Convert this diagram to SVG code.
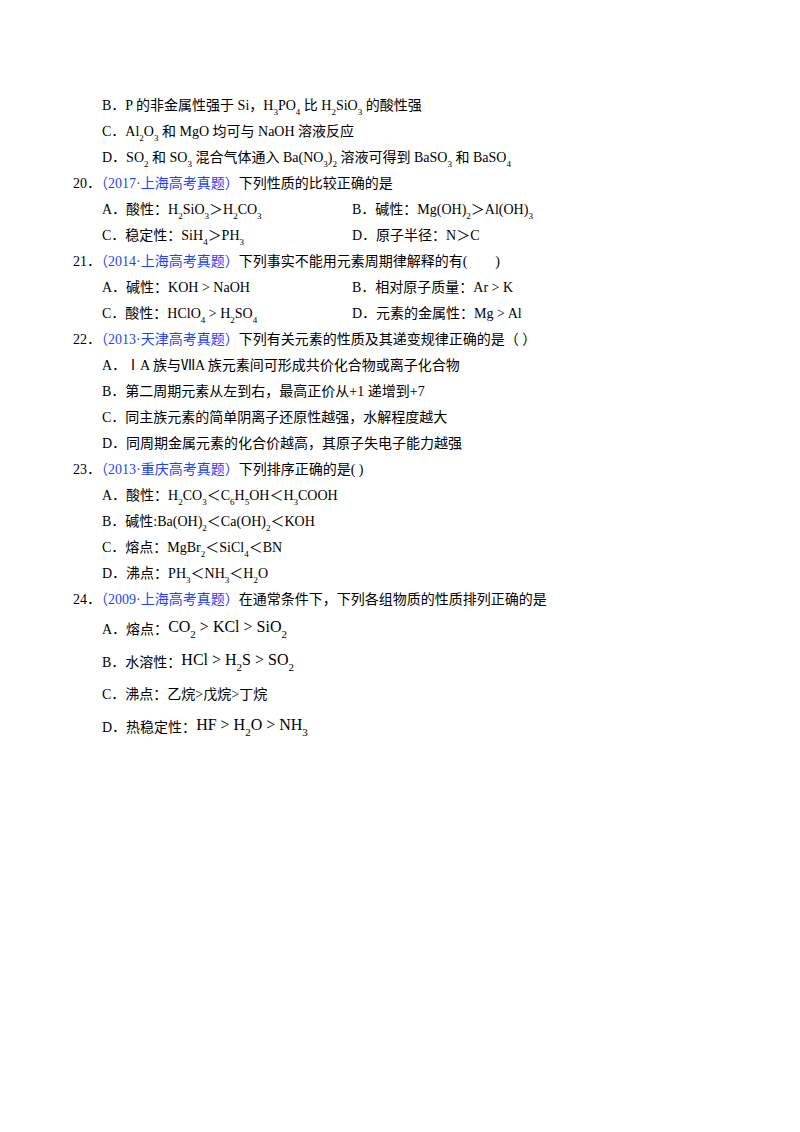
<svg xmlns="http://www.w3.org/2000/svg" width="800" height="1132" viewBox="0 0 800 1132">
<style>
text{font-family:"Liberation Serif","Noto Sans CJK SC",serif;font-size:14px;fill:#000}
.b{fill:#1f3fff}
.s{font-size:9px;baseline-shift:sub}
.L{font-size:16px}
.ls{font-size:11px;baseline-shift:sub}
</style>
<rect width="800" height="1132" fill="#fff"/>
<text x="102" y="110">B．P 的非金属性强于 Si，H<tspan class="s">3</tspan>PO<tspan class="s">4</tspan> 比 H<tspan class="s">2</tspan>SiO<tspan class="s">3</tspan> 的酸性强</text>
<text x="102" y="136">C．Al<tspan class="s">2</tspan>O<tspan class="s">3</tspan> 和 MgO 均可与 NaOH 溶液反应</text>
<text x="102" y="162">D．SO<tspan class="s">2</tspan> 和 SO<tspan class="s">3</tspan> 混合气体通入 Ba(NO<tspan class="s">3</tspan>)<tspan class="s">2</tspan> 溶液可得到 BaSO<tspan class="s">3</tspan> 和 BaSO<tspan class="s">4</tspan></text>
<text x="73" y="188">20．<tspan class="b">（2017·上海高考真题）</tspan>下列性质的比较正确的是</text>
<text x="102" y="214">A．酸性：H<tspan class="s">2</tspan>SiO<tspan class="s">3</tspan>＞H<tspan class="s">2</tspan>CO<tspan class="s">3</tspan></text>
<text x="352" y="214">B．碱性：Mg(OH)<tspan class="s">2</tspan>＞Al(OH)<tspan class="s">3</tspan></text>
<text x="102" y="240">C．稳定性：SiH<tspan class="s">4</tspan>＞PH<tspan class="s">3</tspan></text>
<text x="352" y="240">D．原子半径：N＞C</text>
<text x="73" y="266">21．<tspan class="b">（2014·上海高考真题）</tspan>下列事实不能用元素周期律解释的有(　　)</text>
<text x="102" y="292">A．碱性：KOH &gt; NaOH</text>
<text x="352" y="292">B．相对原子质量：Ar &gt; K</text>
<text x="102" y="318">C．酸性：HClO<tspan class="s">4</tspan> &gt; H<tspan class="s">2</tspan>SO<tspan class="s">4</tspan></text>
<text x="352" y="318">D．元素的金属性：Mg &gt; Al</text>
<text x="73" y="344">22．<tspan class="b">（2013·天津高考真题）</tspan>下列有关元素的性质及其递变规律正确的是（   ）</text>
<text x="102" y="370">A．ⅠA 族与ⅦA 族元素间可形成共价化合物或离子化合物</text>
<text x="102" y="396">B．第二周期元素从左到右，最高正价从+1 递增到+7</text>
<text x="102" y="422">C．同主族元素的简单阴离子还原性越强，水解程度越大</text>
<text x="102" y="448">D．同周期金属元素的化合价越高，其原子失电子能力越强</text>
<text x="73" y="474">23．<tspan class="b">（2013·重庆高考真题）</tspan>下列排序正确的是( )</text>
<text x="102" y="500">A．酸性：H<tspan class="s">2</tspan>CO<tspan class="s">3</tspan>＜C<tspan class="s">6</tspan>H<tspan class="s">5</tspan>OH＜H<tspan class="s">3</tspan>COOH</text>
<text x="102" y="526">B．碱性:Ba(OH)<tspan class="s">2</tspan>＜Ca(OH)<tspan class="s">2</tspan>＜KOH</text>
<text x="102" y="552">C．熔点：MgBr<tspan class="s">2</tspan>＜SiCl<tspan class="s">4</tspan>＜BN</text>
<text x="102" y="578">D．沸点：PH<tspan class="s">3</tspan>＜NH<tspan class="s">3</tspan>＜H<tspan class="s">2</tspan>O</text>
<text x="73" y="604">24．<tspan class="b">（2009·上海高考真题）</tspan>在通常条件下，下列各组物质的性质排列正确的是</text>
<text x="102" y="634">A．熔点：<tspan class="L" dy="-2">CO<tspan class="ls">2</tspan> &gt; KCl &gt; SiO<tspan class="ls">2</tspan></tspan></text>
<text x="102" y="667">B．水溶性：<tspan class="L" dy="-2">HCl &gt; H<tspan class="ls">2</tspan>S &gt; SO<tspan class="ls">2</tspan></tspan></text>
<text x="102" y="699">C．沸点：乙烷&gt;戊烷&gt;丁烷</text>
<text x="102" y="732">D．热稳定性：<tspan class="L" dy="-2">HF &gt; H<tspan class="ls">2</tspan>O &gt; NH<tspan class="ls">3</tspan></tspan></text>
</svg>
